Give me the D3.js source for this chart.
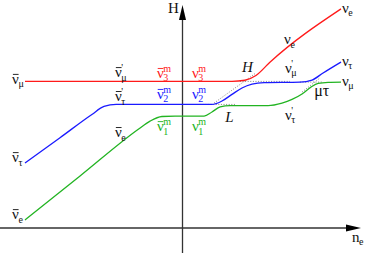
<!DOCTYPE html>
<html>
<head>
<meta charset="utf-8">
<script src="https://cdn.jsdelivr.net/npm/d3@7"></script>
<style>
  body { margin: 0; background: #fff; }
  svg text { font-family: "Liberation Serif", "Times New Roman", serif; }
</style>
</head>
<body>
<svg id="chart" width="368" height="253"></svg>
<script>
// level curves: n_e along x, H along y (arbitrary units)
var red = [[-6, 6.43], [1.86, 6.43], [2.35, 6.48], [2.77, 6.69], [3.30, 7.27], [6, 9.61]];
var blue = [[-6, 2.85], [-4.67, 3.96], [-3.46, 4.98], [-3.00, 5.33], [-2.54, 5.42],
            [1.10, 5.42], [1.48, 5.57], [1.86, 5.86], [2.24, 6.14], [2.62, 6.31],
            [3.08, 6.38], [4.44, 6.40], [4.90, 6.49], [5.32, 6.80], [6, 7.28]];
var green = [[-6, 0.35], [-3.91, 2.28], [-1.71, 4.32], [-1.25, 4.69], [-0.80, 4.89],
             [-0.30, 4.91], [0.80, 4.91], [1.10, 5.09], [1.41, 5.31], [1.79, 5.37],
             [3.23, 5.37], [3.76, 5.48], [4.14, 5.64], [4.52, 5.88], [4.86, 6.18],
             [5.13, 6.34], [5.51, 6.39], [6, 6.40]];
// unperturbed crossings (dotted)
var crossings = [
  [[2.16, 6.43], [4.06, 6.43]],
  [[1.18, 5.48], [2.77, 6.80]],
  [[0.65, 5.42], [1.97, 5.42]],
  [[4.44, 6.40], [5.28, 6.40]],
  [[4.52, 5.96], [5.20, 6.58]]
];

var black = "#111", cRed = "#ff1a1a", cBlue = "#1a1aff", cGreen = "#22b422";

// labels: base glyph, sub, sup, overbar
var labels = [
  {n: -6.49, h: 6.32, t: "ν", sub: "μ", bar: true},
  {n: -6.49, h: 2.89, t: "ν", sub: "τ", bar: true},
  {n: -6.49, h: 0.39, t: "ν", sub: "e", bar: true},
  {n: -2.58, h: 6.62, t: "ν", sub: "μ", sup: "'", bar: true},
  {n: -2.58, h: 5.57, t: "ν", sub: "τ", sup: "'", bar: true},
  {n: -2.58, h: 3.99, t: "ν", sub: "e", bar: true},
  {n: -0.99, h: 6.58, t: "ν", sub: "3", sup: "m", bar: true, c: cRed},
  {n: -0.99, h: 5.66, t: "ν", sub: "2", sup: "m", bar: true, c: cBlue},
  {n: -0.99, h: 4.25, t: "ν", sub: "1", sup: "m", bar: true, c: cGreen},
  {n: 0.34, h: 6.58, t: "ν", sub: "3", sup: "m", c: cRed},
  {n: 0.34, h: 5.66, t: "ν", sub: "2", sup: "m", c: cBlue},
  {n: 0.34, h: 4.25, t: "ν", sub: "1", sup: "m", c: cGreen},
  {n: 2.24, h: 6.84, t: "H", italic: true},
  {n: 1.60, h: 4.65, t: "L", italic: true},
  {n: 3.84, h: 8.07, t: "ν", sub: "e"},
  {n: 3.87, h: 6.80, t: "ν", sub: "μ", sup: "'"},
  {n: 3.87, h: 4.74, t: "ν", sub: "τ", sup: "'"},
  {n: 4.98, h: 5.79, t: "μτ", size: 16},
  {n: 6.04, h: 9.43, t: "ν", sub: "e"},
  {n: 6.04, h: 7.11, t: "ν", sub: "τ"},
  {n: 6.04, h: 6.23, t: "ν", sub: "μ"},
  {n: -0.57, h: 9.43, t: "H"},
  {n: 6.42, h: -0.61, t: "n", sub: "e"}
];

var width = 368, height = 253;
var svg = d3.select("#chart");

var x = d3.scaleLinear().domain([-6, 6]).range([25, 341]);
var y = d3.scaleLinear().domain([0, 10]).range([228, 0]);

// axes
var axisColor = "#333";
svg.append("line")
    .attr("x1", 0).attr("x2", width - 16)
    .attr("y1", y(0)).attr("y2", y(0))
    .attr("stroke", axisColor).attr("stroke-width", 1.3);
svg.append("path")
    .attr("d", "M" + (width - 7) + "," + y(0) + "l-15,-3.5l0,7z")
    .attr("fill", "#000");
svg.append("line")
    .attr("x1", x(0) - 0.5).attr("x2", x(0) - 0.5)
    .attr("y1", height).attr("y2", 18)
    .attr("stroke", axisColor).attr("stroke-width", 1.3);
svg.append("path")
    .attr("d", "M" + (x(0) - 0.5) + ",5l-3.5,15l7,0z")
    .attr("fill", "#000");

var line = d3.line()
    .x(function(d) { return x(d[0]); })
    .y(function(d) { return y(d[1]); })
    .curve(d3.curveMonotoneX);

svg.selectAll(".cross")
    .data(crossings)
  .enter().append("path")
    .attr("class", "cross")
    .attr("d", d3.line().x(function(d) { return x(d[0]); }).y(function(d) { return y(d[1]); }))
    .attr("fill", "none")
    .attr("stroke", "#777")
    .attr("stroke-width", 0.9)
    .attr("stroke-dasharray", "1,1.6");

[[green, cGreen], [blue, cBlue], [red, cRed]].forEach(function(s) {
  svg.append("path")
      .datum(s[0])
      .attr("d", line)
      .attr("fill", "none")
      .attr("stroke", s[1])
      .attr("stroke-width", 1.3);
});

labels.forEach(function(d) {
  var px = x(d.n), py = y(d.h), c = d.c || black;
  var t = svg.append("text")
      .attr("x", px).attr("y", py)
      .attr("fill", c)
      .style("font-size", (d.size || 15) + "px")
      .style("font-style", d.italic ? "italic" : "normal")
      .text(d.t);
  var w = t.node().getComputedTextLength();
  if (d.bar) {
    svg.append("line")
        .attr("x1", px + 0.8).attr("x2", px + w - 0.3)
        .attr("y1", py - 9.5).attr("y2", py - 9.5)
        .attr("stroke", c).attr("stroke-width", 0.9);
  }
  if (d.sub) {
    svg.append("text")
        .attr("x", px + w - 0.5).attr("y", py + 3.5)
        .attr("fill", c).style("font-size", "10px")
        .text(d.sub);
  }
  if (d.sup) {
    svg.append("text")
        .attr("x", px + w - 0.5).attr("y", py - 6)
        .attr("fill", c).style("font-size", "10px")
        .text(d.sup);
  }
});
</script>
</body>
</html>
